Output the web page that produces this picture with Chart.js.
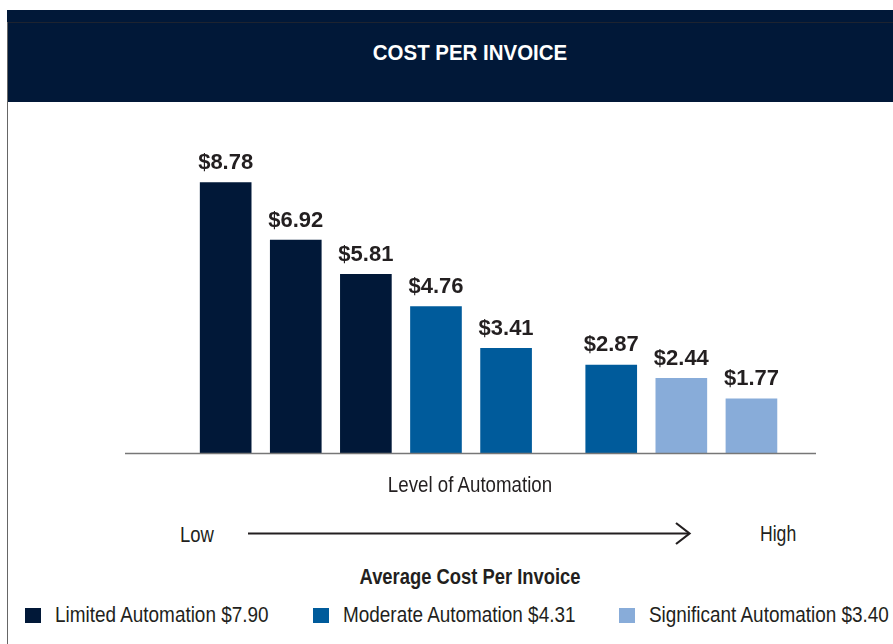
<!DOCTYPE html>
<html lang="en">
<head>
  <meta charset="UTF-8">
  <title>Cost Per Invoice</title>
  <script src="https://cdn.jsdelivr.net/npm/chart.js"></script>
  <style>
    body { margin: 0; width: 893px; height: 644px; position: relative; overflow: hidden; background: #fff;
           font-family: "Liberation Sans", Arial, sans-serif; color: #231f20; }
    .txt { position: absolute; white-space: nowrap; font-size: 22px; line-height: 22px; }
    .center { left: 470px; }
    .bold { font-weight: bold; }
    #header { position: absolute; left: 7px; top: 10px; width: 886px; height: 92px; background: #011838; }
    #headerLine { position: absolute; left: 7px; top: 22px; width: 886px; height: 1px; background: #1d2330; }
    #frame { position: absolute; left: 7px; top: 22px; width: 886px; height: 622px; border-left: 1.5px solid #666; }
    #title { color: #fff; top: 42px; }
    #chartBox { position: absolute; left: 9px; top: 102px; width: 884px; height: 372px; }
    #arrow { position: absolute; left: 240px; top: 518px; }
    #legend { position: absolute; left: 25px; top: 604px; height: 22px; display: flex; align-items: center; }
    .item { display: flex; align-items: center; margin-right: 44px; }
    .box { width: 16px; height: 15px; margin-right: 14px; }
  </style>
</head>
<body>
  <div id="header"></div>
  <div id="headerLine"></div>
  <div id="frame"></div>
  <div id="title" class="txt bold center">COST PER INVOICE</div>

  <div id="chartBox"><canvas id="costChart"></canvas></div>

  <div id="axisTitle" class="txt center" style="top:474px">Level of Automation</div>
  <div id="lowLabel" class="txt" style="left:180px; top:524px">Low</div>
  <svg id="arrow" width="460" height="32">
    <line x1="8" y1="15.5" x2="449" y2="15.5" stroke="#231f20" stroke-width="2.2"/>
    <polyline points="436,5 449.5,15.5 436,26" fill="none" stroke="#231f20" stroke-width="2.2"/>
  </svg>
  <div id="highLabel" class="txt" style="left:760px; top:523px">High</div>
  <div id="legendTitle" class="txt bold center" style="top:566px">Average Cost Per Invoice</div>

  <div id="legend"></div>

  <script>
    // Bar data (x = position along the automation scale, gap before the 6th bar)
    const levels = [1, 2, 3, 4, 5, 6.5, 7.5, 8.5];
    const costs = [8.78, 6.92, 5.81, 4.76, 3.41, 2.87, 2.44, 1.77];
    const barGroup = [0, 0, 0, 1, 1, 1, 2, 2];

    // Legend groups
    const groupNames = ['Limited Automation', 'Moderate Automation', 'Significant Automation'];
    const groupAvg = [7.90, 4.31, 3.40];
    const groupColors = ['#011838', '#005b9b', '#88acd9'];

    // squeeze text horizontally (source font is a condensed face)
    function condense(el, s, centered) {
      el.style.display = 'inline-block';
      if (centered) {
        el.style.transform = `translateX(-50%) scaleX(${s})`;
      } else {
        el.style.transformOrigin = 'left center';
        el.style.transform = `scaleX(${s})`;
        el.style.marginRight = (-el.offsetWidth * (1 - s)) + 'px';
      }
    }

    // Legend
    const legend = document.getElementById('legend');
    groupNames.forEach((name, i) => {
      const item = document.createElement('div');
      item.className = 'item';
      const box = document.createElement('div');
      box.className = 'box';
      box.style.background = groupColors[i];
      const label = document.createElement('span');
      label.style.fontSize = '22px';
      label.style.whiteSpace = 'nowrap';
      label.textContent = `${name} $${groupAvg[i].toFixed(2)}`;
      item.appendChild(box);
      item.appendChild(label);
      legend.appendChild(item);
      condense(label, 0.86);
    });

    condense(document.getElementById('title'), 0.93, true);
    condense(document.getElementById('axisTitle'), 0.85, true);
    condense(document.getElementById('legendTitle'), 0.835, true);
    condense(document.getElementById('lowLabel'), 0.84);
    condense(document.getElementById('highLabel'), 0.8);

    // Baseline + value labels
    const barExtras = {
      id: 'barExtras',
      afterDatasetsDraw(chart) {
        const { ctx, chartArea, scales } = chart;
        const y0 = scales.y.getPixelForValue(0);
        ctx.save();
        ctx.strokeStyle = '#777';
        ctx.lineWidth = 1.5;
        ctx.beginPath();
        ctx.moveTo(chartArea.left, y0);
        ctx.lineTo(chartArea.right, y0);
        ctx.stroke();

        ctx.fillStyle = '#231f20';
        ctx.font = 'bold 22px "Liberation Sans", Arial, sans-serif';
        ctx.textAlign = 'center';
        ctx.textBaseline = 'alphabetic';
        chart.getDatasetMeta(0).data.forEach((bar, i) => {
          ctx.fillText('$' + costs[i].toFixed(2), bar.x, bar.y - 13.5);
        });
        ctx.restore();
      }
    };

    new Chart(document.getElementById('costChart'), {
      type: 'bar',
      data: {
        datasets: [{
          data: levels.map((x, i) => ({ x: x, y: costs[i] })),
          backgroundColor: barGroup.map(g => groupColors[g]),
          barThickness: 51
        }]
      },
      options: {
        responsive: true,
        maintainAspectRatio: false,
        animation: false,
        layout: { padding: { left: 116, right: 77, top: 43, bottom: 20.5 } },
        scales: {
          x: { type: 'linear', min: -0.436, max: 9.421, offset: false, display: false },
          y: { min: 0, max: 10, display: false }
        },
        plugins: {
          legend: { display: false },
          tooltip: { enabled: false }
        }
      },
      plugins: [barExtras]
    });
  </script>
</body>
</html>
